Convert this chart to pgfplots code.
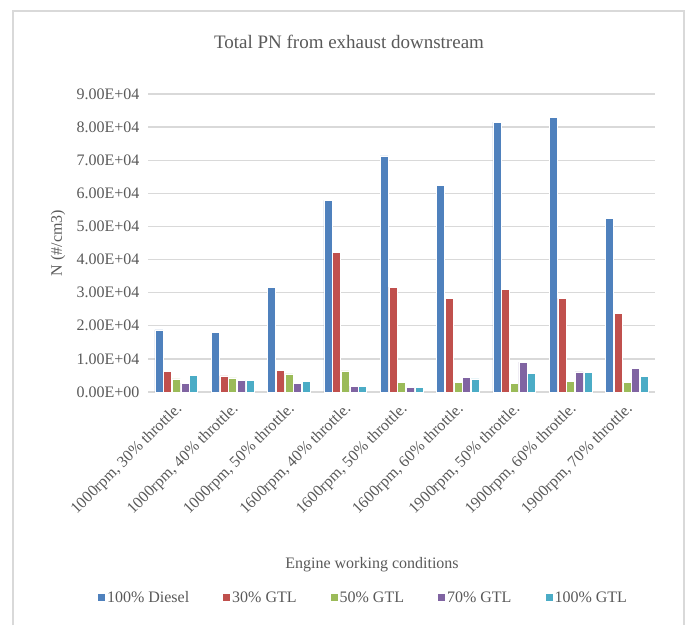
\documentclass[border=0pt]{standalone}
\usepackage{pgfplots}
\pgfplotsset{compat=1.18}
\usepackage{pgfplotstable}
\usepackage{fontspec}
\setmainfont{Liberation Serif}

\definecolor{cDiesel}{HTML}{4F81BD}
\definecolor{cGTLthirty}{HTML}{C0504D}
\definecolor{cGTLfifty}{HTML}{9BBB59}
\definecolor{cGTLseventy}{HTML}{8064A2}
\definecolor{cGTLhundred}{HTML}{4BACC6}
\definecolor{gridgray}{HTML}{D9D9D9}
\definecolor{labelgray}{HTML}{595959}

% Total particle number downstream of the exhaust, #/cm3
\pgfplotstableread{
x  diesel gtlA  gtlB  gtlC  gtlD
0  18800  6200  4000  2700  5100
1  18100  4900  4300  3500  3500
2  31500  6500  5500  2500  3300
3  57900  42200 6400  1800  1600
4  71300  31700 3000  1500  1300
5  62400  28300 2900  4500  4000
6  81500  30900 2700  9000  5600
7  83000  28300 3300  6100  5900
8  52500  23800 3000  7200  4800
}\pndata

\begin{document}
\begin{tikzpicture}[x=1pt,y=1pt]
\useasboundingbox (0,0) rectangle (688,625);
% chart area border
\draw[gridgray, line width=1.3pt] (13,0) -- (13,614) -- (684,614) -- (684,0);
% titles
\node[font=\fontsize{19}{22}\selectfont, text=labelgray] at (349,583) {Total PN from exhaust downstream};
\node[font=\fontsize{16}{19}\selectfont, text=labelgray, rotate=90] at (58,382) {N (\#/cm3)};
\node[font=\fontsize{16}{19}\selectfont, text=labelgray] at (372,60) {Engine working conditions};

\begin{axis}[
  at={(148pt,233pt)}, anchor=south west,
  scale only axis, width=507pt, height=298pt,
  xmin=-0.5, xmax=8.5, ymin=0, ymax=90000,
  ybar=0.67pt, bar width=8pt,
  axis line style={draw=none},
  major tick length=0pt,
  ymajorgrids, grid style={gridgray, line width=1.3pt},
  scaled y ticks=false,
  ytick={0,10000,...,90000},
  yticklabels={0.00E+00,1.00E+04,2.00E+04,3.00E+04,4.00E+04,5.00E+04,6.00E+04,7.00E+04,8.00E+04,9.00E+04},
  xtick={0,...,8},
  xticklabels={{1000rpm, 30\% throttle.},{1000rpm, 40\% throttle.},{1000rpm, 50\% throttle.},
               {1600rpm, 40\% throttle.},{1600rpm, 50\% throttle.},{1600rpm, 60\% throttle.},
               {1900rpm, 50\% throttle.},{1900rpm, 60\% throttle.},{1900rpm, 70\% throttle.}},
  tick label style={text=labelgray, font=\fontsize{16}{19}\selectfont},
  yticklabel style={xshift=-5pt},
  xticklabel style={anchor=east, xshift=6pt, yshift=-12pt, rotate=45},
  every axis plot/.append style={draw=white, line width=0.5pt},
  legend columns=5,
  legend style={at={(0.425,-0.691)}, anchor=center, draw=none, fill=none,
    font=\fontsize{16}{19}\selectfont, text=labelgray,
    /tikz/every even column/.append style={column sep=32pt},
    nodes={inner sep=2pt}},
  legend image code/.code={\fill[#1,draw=none] (0pt,-3.5pt) rectangle (7pt,3.5pt);},
]
\addplot[fill=cDiesel]     table[x=x, y=diesel] {\pndata};
\addplot[fill=cGTLthirty]  table[x=x, y=gtlA]   {\pndata};
\addplot[fill=cGTLfifty]   table[x=x, y=gtlB]   {\pndata};
\addplot[fill=cGTLseventy] table[x=x, y=gtlC]   {\pndata};
\addplot[fill=cGTLhundred] table[x=x, y=gtlD]   {\pndata};
\legend{100\% Diesel, 30\% GTL, 50\% GTL, 70\% GTL, 100\% GTL}
\end{axis}
\end{tikzpicture}
\end{document}
